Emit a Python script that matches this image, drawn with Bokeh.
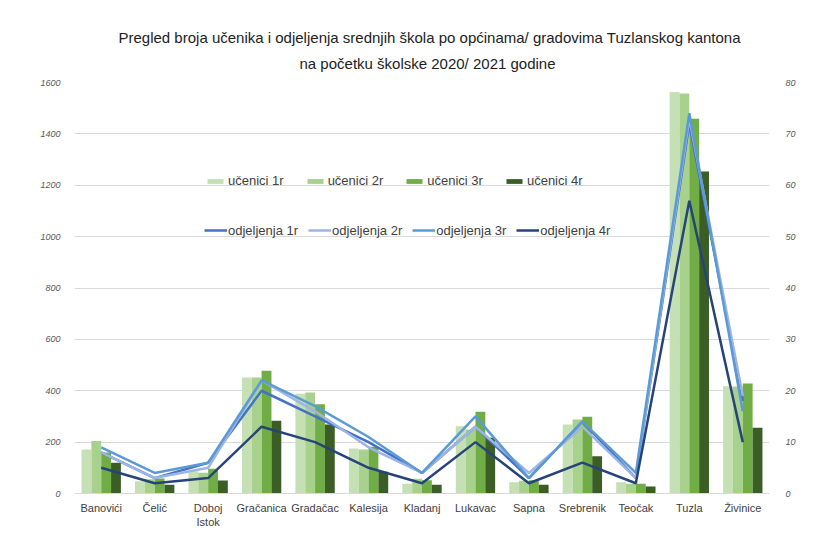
from bokeh.plotting import figure
from bokeh.models import (Range1d, LinearAxis, FixedTicker, Legend, LegendItem,
                          Title, ColumnDataSource)
from bokeh.embed import file_html
from bokeh.resources import INLINE

categories = ["Banovići", "Čelić", "Doboj\nIstok", "Gračanica", "Gradačac", "Kalesija",
              "Kladanj", "Lukavac", "Sapna", "Srebrenik", "Teočak", "Tuzla", "Živinice"]

ucenici_1r = [171, 48, 87, 452, 388, 175, 38, 262, 44, 269, 44, 1563, 418]
ucenici_2r = [204, 55, 81, 452, 393, 171, 57, 249, 50, 288, 38, 1557, 417]
ucenici_3r = [160, 58, 96, 478, 347, 182, 52, 318, 52, 299, 38, 1459, 428]
ucenici_4r = [120, 34, 51, 283, 269, 85, 34, 217, 34, 145, 27, 1254, 256]

odjeljenja_1r = [8, 3, 6, 20, 15, 10, 4, 13, 3, 14, 3, 72, 18]
odjeljenja_2r = [8, 3, 5, 22, 16, 9, 4, 13, 4, 13, 3, 73, 19]
odjeljenja_3r = [9, 4, 6, 22, 17, 11, 4, 15, 3, 14, 4, 74, 16]
odjeljenja_4r = [5, 2, 3, 13, 10, 5, 2, 10, 2, 6, 2, 57, 10]

left_ticks = list(range(0, 1601, 200))
right_ticks = list(range(0, 81, 10))

bar_names = ["učenici 1r", "učenici 2r", "učenici 3r", "učenici 4r"]
bar_series = [ucenici_1r, ucenici_2r, ucenici_3r, ucenici_4r]
bar_colors = ["#C5E0B4", "#A9D18E", "#70AD47", "#3A5E25"]

line_names = ["odjeljenja 1r", "odjeljenja 2r", "odjeljenja 3r", "odjeljenja 4r"]
line_series = [odjeljenja_1r, odjeljenja_2r, odjeljenja_3r, odjeljenja_4r]
line_colors = ["#4472C4", "#9DB4E4", "#5B9BD5", "#264478"]

title_line1 = "Pregled broja učenika i odjeljenja srednjih škola po općinama/ gradovima Tuzlanskog kantona"
title_line2 = "na početku školske 2020/ 2021 godine"

n = len(categories)
centers = [i + 0.5 for i in range(n)]
bw = 0.184
offsets = [-1.5 * bw, -0.5 * bw, 0.5 * bw, 1.5 * bw]

p = figure(width=810, height=536, output_backend="svg", toolbar_location=None,
           x_range=Range1d(0, n), y_range=Range1d(0, 1600),
           min_border_left=74, min_border_right=41, min_border_top=82, min_border_bottom=43)
p.outline_line_color = None
p.background_fill_color = "white"
p.border_fill_color = "white"
p.extra_y_ranges = {"r": Range1d(0, 80)}

# axes
p.xaxis.ticker = FixedTicker(ticks=centers)
p.xaxis.major_label_overrides = {c: lab for c, lab in zip(centers, categories)}
p.xaxis.major_tick_line_color = None
p.xaxis.minor_tick_line_color = None
p.xaxis.axis_line_color = "#D9D9D9"
p.xaxis.major_label_text_font = "Liberation Sans"
p.xaxis.major_label_text_font_size = "11px"
p.xaxis.major_label_text_color = "#404040"
p.xaxis.major_label_standoff = 2
p.xgrid.grid_line_color = None

p.yaxis.ticker = FixedTicker(ticks=left_ticks)
p.yaxis.axis_line_color = None
p.yaxis.major_tick_line_color = None
p.yaxis.minor_tick_line_color = None
p.yaxis.major_label_text_font = "Liberation Sans"
p.yaxis.major_label_text_font_style = "italic"
p.yaxis.major_label_text_font_size = "9px"
p.yaxis.major_label_text_color = "#595959"
p.yaxis.major_label_standoff = 8
p.ygrid.ticker = FixedTicker(ticks=left_ticks)
p.ygrid.grid_line_color = "#D9D9D9"

raxis = LinearAxis(y_range_name="r", ticker=FixedTicker(ticks=right_ticks))
raxis.axis_line_color = None
raxis.major_tick_line_color = None
raxis.minor_tick_line_color = None
raxis.major_label_text_font = "Liberation Sans"
raxis.major_label_text_font_style = "italic"
raxis.major_label_text_font_size = "9px"
raxis.major_label_text_color = "#595959"
raxis.major_label_standoff = 10
p.add_layout(raxis, "right")

# bars
bar_renderers = []
for vals, off, col in zip(bar_series, offsets, bar_colors):
    src = ColumnDataSource(dict(x=[c + off for c in centers], top=vals))
    r = p.vbar(x="x", top="top", width=bw, bottom=0, source=src, fill_color=col, line_color=None)
    bar_renderers.append(r)

# lines
line_renderers = []
for vals, col in zip(line_series, line_colors):
    r = p.line(centers, vals, line_color=col, line_width=2.5, y_range_name="r")
    line_renderers.append(r)

leg1 = Legend(items=[LegendItem(label=nm, renderers=[r]) for nm, r in zip(bar_names, bar_renderers)],
              orientation="horizontal", location=(131, 305), padding=0, margin=0,
              spacing=21, glyph_width=20, glyph_height=6, label_height=6,
              label_standoff=3, border_line_color=None, background_fill_alpha=0,
              label_text_font="Liberation Sans", label_text_font_size="13px",
              label_text_color="#404040")
leg2 = Legend(items=[LegendItem(label=nm, renderers=[r]) for nm, r in zip(line_names, line_renderers)],
              orientation="horizontal", location=(130, 255), padding=0, margin=0,
              spacing=10, glyph_width=23, glyph_height=16, label_height=16,
              label_standoff=1, border_line_color=None, background_fill_alpha=0,
              label_text_font="Liberation Sans", label_text_font_size="13px",
              label_text_color="#404040")
p.add_layout(leg1, "center")
p.add_layout(leg2, "center")

# title (two lines; the one added later sits further from the frame)
p.add_layout(Title(text=title_line2, align="left", offset=225, standoff=22,
                   text_font="Liberation Sans", text_font_size="15px",
                   text_font_style="normal", text_color="#222222"), "above")
p.add_layout(Title(text=title_line1, align="left", offset=44, standoff=-9.5,
                   text_font="Liberation Sans", text_font_size="15px",
                   text_font_style="normal", text_color="#222222"), "above")

open("out.html", "w").write(file_html(p, INLINE))
